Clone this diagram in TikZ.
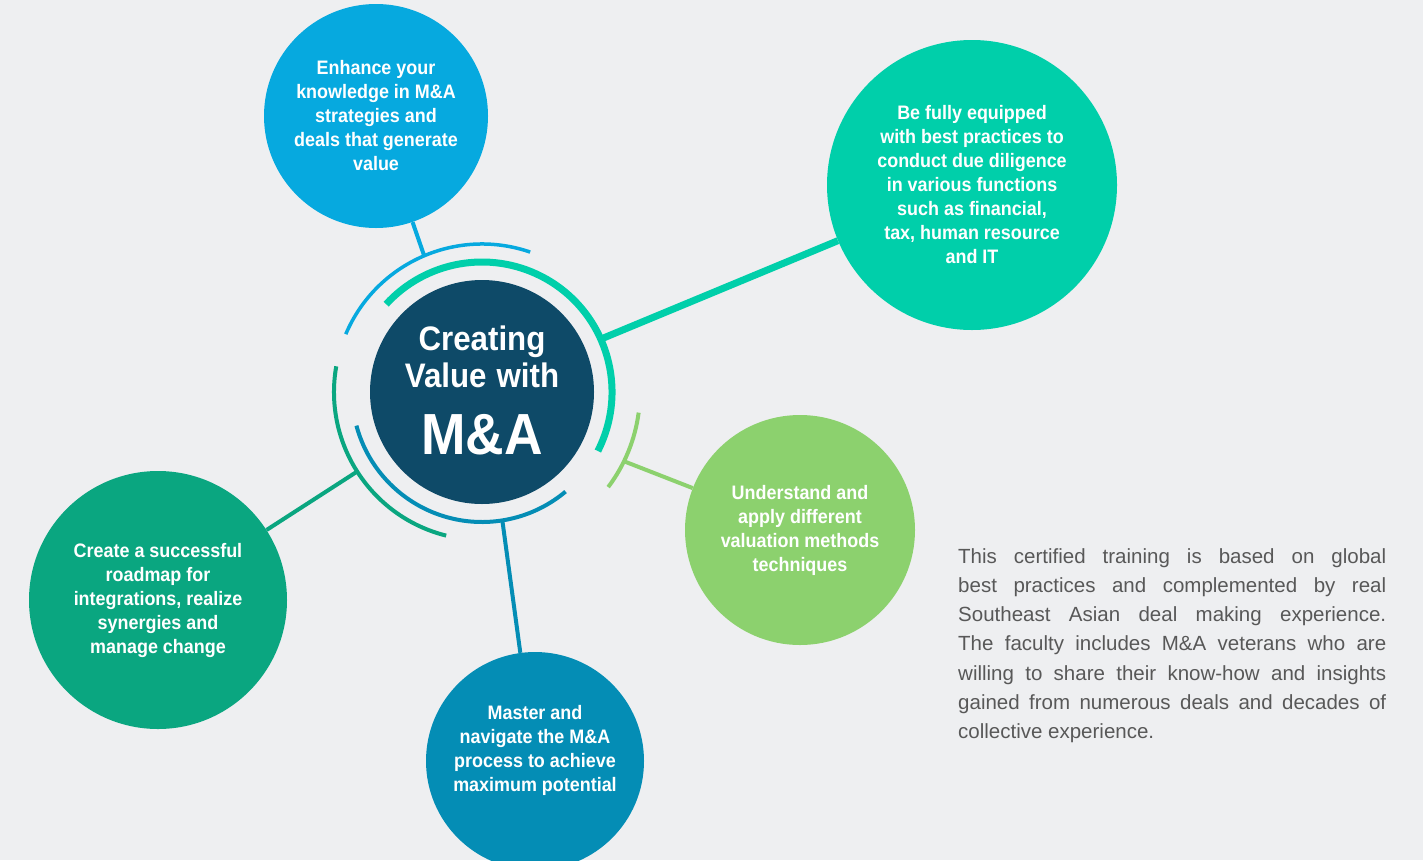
\documentclass[tikz,border=0pt]{standalone}
\usepackage{fontspec}
\setmainfont{Liberation Sans}
\newfontfamily\headfont[FakeStretch=0.92]{Liberation Sans}
\usetikzlibrary{positioning}
\definecolor{bgGray}{HTML}{EEEFF1}
\definecolor{hubNavy}{HTML}{0E4A68}
\definecolor{skyBlue}{HTML}{06A9DF}
\definecolor{mintTeal}{HTML}{00CFAA}
\definecolor{leafGreen}{HTML}{8CD16E}
\definecolor{oceanBlue}{HTML}{048DB5}
\definecolor{pineGreen}{HTML}{0AA680}
\definecolor{bodyGray}{HTML}{585858}
\tikzstyle{bubble} = [circle, inner sep=0pt, text=white, align=center, font=\headfont\bfseries\fontsize{19.5}{24}\selectfont]
\tikzstyle{ring} = [line width=4pt]
\tikzstyle{spoke} = [line width=4pt]

\begin{document}
\begin{tikzpicture}[x=1pt, y=1pt]
	\fill[bgGray] (0,0) rectangle (1423,-860);
	\useasboundingbox (0,0) rectangle (1423,-860);
	\clip (0,0) rectangle (1423,-860);
	% hub and bubbles
	\node[circle, fill=hubNavy, minimum size=224pt, inner sep=0pt] (hub) at (482,-392) {};
	\node[text=white, text width=220pt, align=center, font=\headfont\bfseries, inner sep=0pt, yshift=2pt] (hubTitle) at (hub.center)
		{{\fontsize{34}{37}\selectfont Creating\\Value\hskip 10pt with\par}{\fontsize{58}{67}\selectfont M\&A\par}};
	\node[bubble, fill=skyBlue, minimum size=224pt] (know) at (376,-116)
		{Enhance your\\knowledge in M\&A\\strategies and\\deals that generate\\value};
	\node[bubble, fill=mintTeal, minimum size=290pt] (diligence) at (972,-185)
		{Be fully equipped\\with best practices to\\conduct due diligence\\in various functions\\such as financial,\\tax, human resource\\and IT};
	\node[bubble, fill=leafGreen, minimum size=230pt] (valuation) at (800,-530)
		{Understand and\\apply different\\valuation methods\\techniques};
	\node[bubble, fill=oceanBlue, minimum size=218pt,
		label={[bubble, yshift=11pt]center:Master and\\navigate the M\&A\\process to achieve\\maximum potential}] (process) at (535,-761) {};
	\node[bubble, fill=pineGreen, minimum size=258pt] (roadmap) at (158,-600)
		{Create a successful\\roadmap for\\integrations, realize\\synergies and\\manage change};
	% rings round the hub
	\draw[ring, skyBlue, line width=3.5pt] ([shift={(71:148)}]hub.center) arc[start angle=71, end angle=157, radius=148];
	\draw[ring, mintTeal, line width=7pt] ([shift={(-27:130)}]hub.center) arc[start angle=-27, end angle=137.5, radius=130];
	\draw[ring, leafGreen] ([shift={(-37:158)}]hub.center) arc[start angle=-37, end angle=-7.5, radius=158];
	\draw[ring, pineGreen] ([shift={(170:148)}]hub.center) arc[start angle=170, end angle=256, radius=148];
	\draw[ring, oceanBlue] ([shift={(195:130)}]hub.center) arc[start angle=195, end angle=310, radius=130];
	% spokes
	\coordinate (knowTip) at ([shift={(113:148)}]hub.center);
	\coordinate (diligenceTip) at ([shift={(24:130)}]hub.center);
	\coordinate (valuationTip) at ([shift={(-26:158)}]hub.center);
	\coordinate (processTip) at ([shift={(279:130)}]hub.center);
	\coordinate (roadmapTip) at ([shift={(212.5:148)}]hub.center);
	\draw[spoke, skyBlue] (knowTip) -- (know);
	\draw[spoke, mintTeal, line width=7pt] (diligenceTip) -- (diligence);
	\draw[spoke, leafGreen] (valuationTip) -- (valuation);
	\draw[spoke, oceanBlue] (processTip) -- (process);
	\draw[spoke, pineGreen] (roadmapTip) -- (roadmap);
	% side text
	\node[anchor=north west, inner sep=0pt, text width=428pt, align=justify, text=bodyGray, font=\fontsize{20.5}{29.3}\selectfont] (blurb) at (958,-548)
		{\hyphenpenalty=10000 \exhyphenpenalty=10000 This certified training is based on global\linebreak best practices and complemented by real\linebreak Southeast Asian deal making experience.\linebreak The faculty includes M\&A veterans who are\linebreak willing to share their know-how and insights\linebreak gained from numerous deals and decades of\linebreak collective experience.};
\end{tikzpicture}
\end{document}
